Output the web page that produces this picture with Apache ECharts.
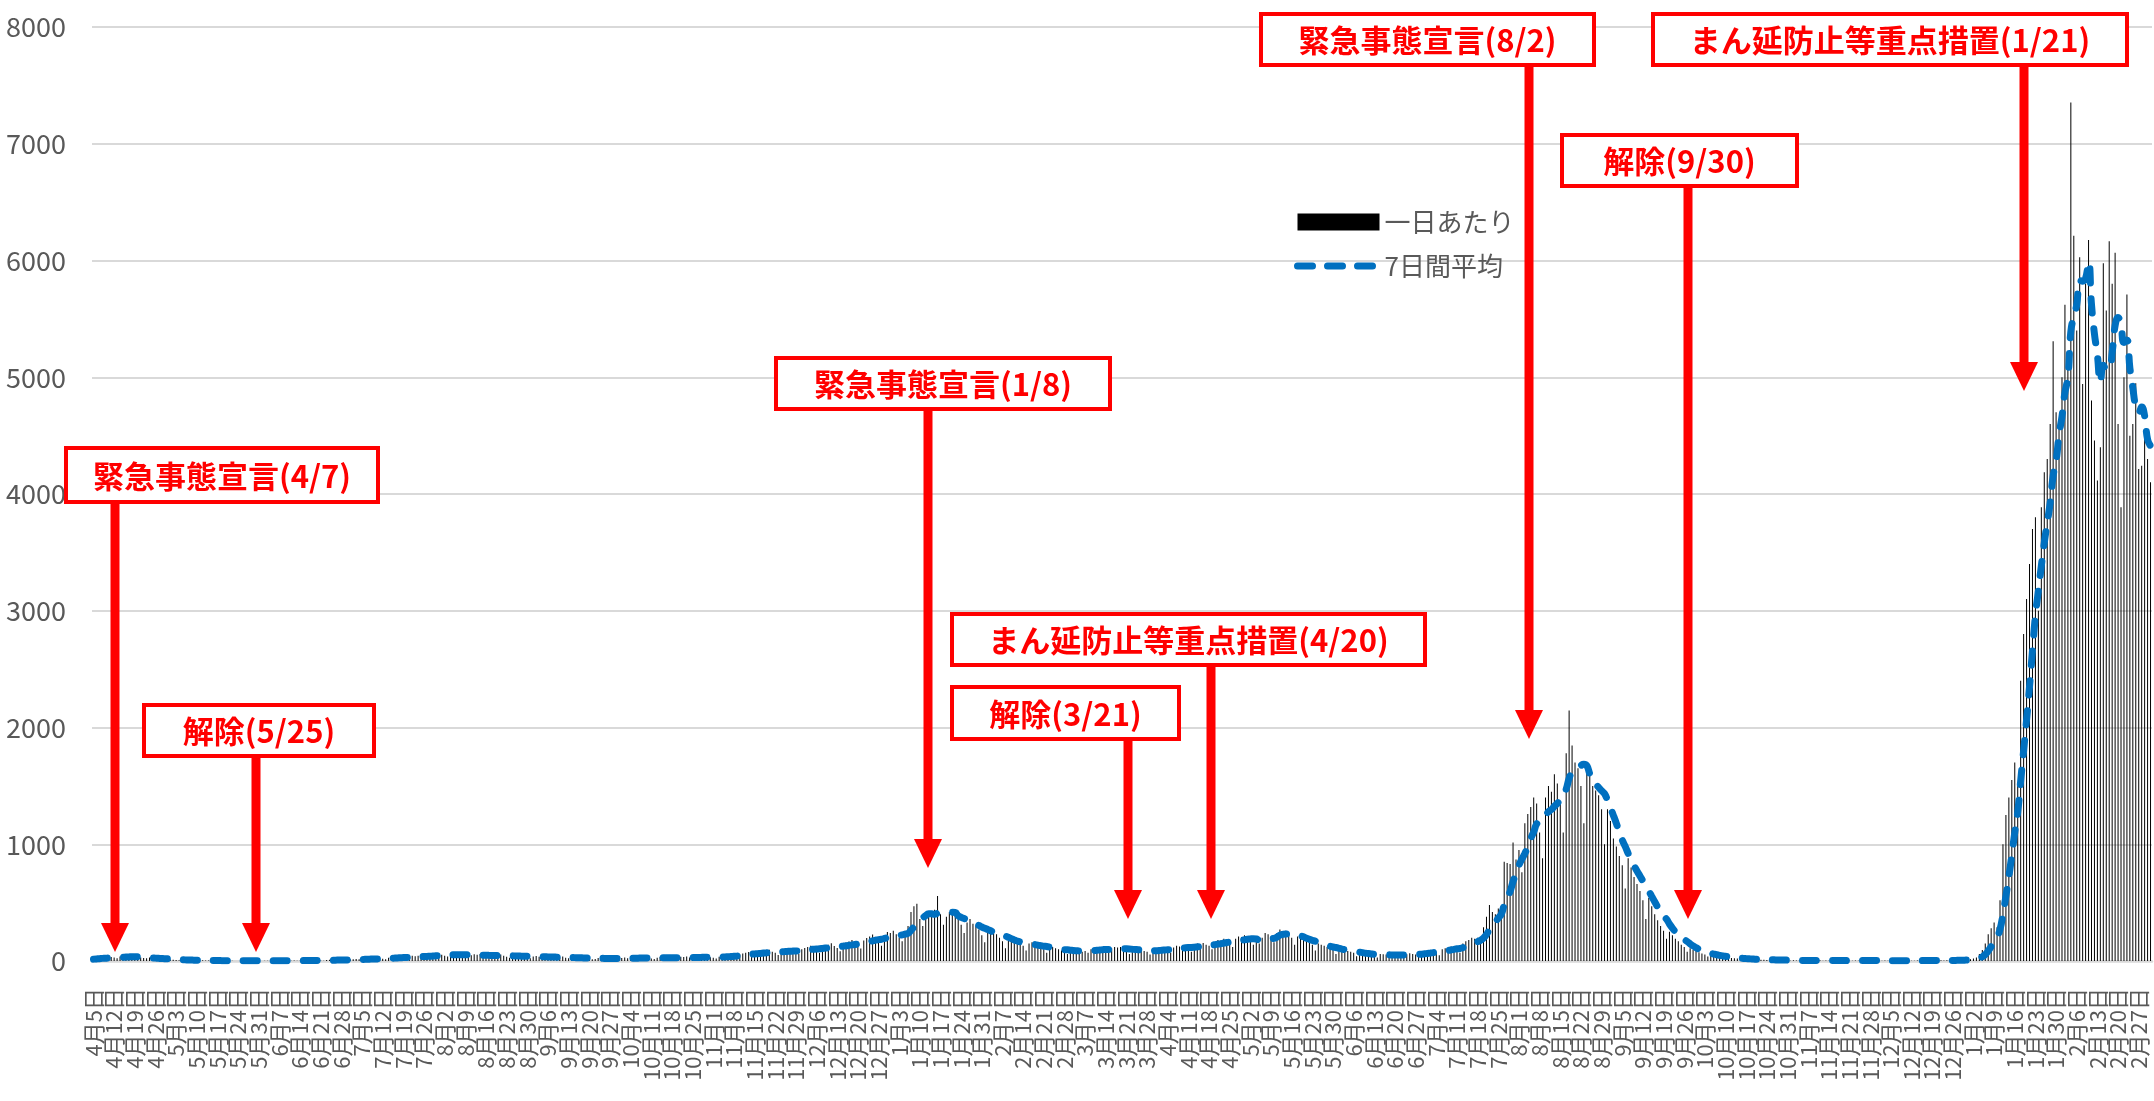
<!DOCTYPE html>
<html><head><meta charset="utf-8">
<script src="https://cdn.jsdelivr.net/npm/echarts@6/dist/echarts.min.js"></script>
<style>html,body{margin:0;padding:0;background:#fff}#c{width:2154px;height:1101px}</style>
</head><body><div id="c"></div>
<script>
// first day of the series (Sunday 2020-04-05); one value per day
const startDate = [2020, 4, 5];
const seriesNames = ['一日あたり', '7日間平均'];
const yTicks = { min: 0, max: 8000, step: 1000 };
const labelEvery = 7; // one date label per week
// daily new cases, one row per week (Sun..Sat)
const dailyCases = [
  16,20,24,30,26,36,34,        // 4/5
  30,24,38,34,42,40,48,        // 4/12
  28,22,30,26,24,30,22,        // 4/19
  18,12,16,20,14,12,10,        // 4/26
  8,6,10,7,9,6,5,              // 5/3
  4,3,6,5,4,3,2,               // 5/10
  2,1,3,2,1,2,1,               // 5/17
  1,0,2,1,3,2,4,               // 5/24
  2,1,3,2,4,3,2,               // 5/31
  1,2,4,3,2,5,3,               // 6/7
  2,4,6,5,7,4,6,               // 6/14
  5,3,8,10,7,12,9,             // 6/21
  8,6,12,14,16,18,15,          // 6/28
  14,10,18,22,20,26,24,        // 7/5
  20,16,28,32,30,36,34,        // 7/12
  28,22,38,44,40,46,42,        // 7/19
  36,30,48,52,56,60,54,        // 7/26
  44,38,56,62,58,64,52,        // 8/2
  42,36,50,58,54,60,48,        // 8/9
  38,30,46,52,48,56,44,        // 8/16
  36,28,44,48,42,50,40,        // 8/23
  32,24,38,42,36,44,34,        // 8/30
  28,20,32,36,30,38,28,        // 9/6
  24,18,28,30,26,32,24,        // 9/13
  20,16,18,26,24,28,22,        // 9/20
  18,14,22,28,26,30,24,        // 9/27
  20,16,26,32,30,34,26,        // 10/4
  22,18,28,34,30,36,28,        // 10/11
  24,20,30,36,34,38,30,        // 10/18
  26,20,32,38,36,40,32,        // 10/25
  28,22,36,42,46,50,44,        // 11/1
  40,34,56,64,70,78,66,        // 11/8
  58,46,74,82,88,96,80,        // 11/15
  70,52,84,92,98,110,88,       // 11/22
  78,60,100,112,120,130,106,   // 11/29
  94,70,120,136,140,152,128,   // 12/6
  112,84,140,158,166,180,150,  // 12/13
  140,108,176,196,210,228,190, // 12/20
  176,130,220,248,240,260,230, // 12/27
  200,170,260,300,420,470,490, // 2021 1/3
  360,300,380,420,410,440,556, // 1/10
  400,310,380,420,410,430,360, // 1/17
  310,240,330,360,320,300,270, // 1/24
  220,160,260,280,240,230,200, // 1/31
  170,110,190,200,160,170,150, // 2/7
  130,90,150,160,140,130,120,  // 2/14
  100,70,110,120,110,100,90,   // 2/21
  80,60,90,100,95,90,80,       // 2/28
  85,70,100,110,105,110,100,   // 3/7
  95,70,110,120,115,120,105,   // 3/14
  90,60,95,105,100,95,85,      // 3/21
  80,55,95,110,105,115,100,    // 3/28
  95,70,115,130,125,135,120,   // 4/4
  110,80,130,150,145,155,140,  // 4/11
  130,100,160,180,175,190,170, // 4/18
  160,120,190,210,205,220,195, // 4/25
  180,140,170,150,200,240,230, // 5/2
  210,160,240,270,250,260,230, // 5/9
  200,140,210,220,190,180,160, // 5/16
  140,90,150,140,130,120,110,  // 5/23
  100,60,100,95,90,85,80,      // 5/30
  70,40,70,65,60,62,55,        // 6/6
  50,30,60,58,55,60,52,        // 6/13
  45,28,62,60,58,66,60,        // 6/20
  55,35,75,80,82,90,85,        // 6/27
  80,50,100,110,115,125,120,   // 7/4
  110,70,150,170,180,200,190,  // 7/11
  200,150,290,380,480,420,400, // 7/18
  450,380,850,840,830,1014,870,      // 7/25
  950,760,1180,1260,1320,1400,1350,  // 8/1
  1100,880,1400,1500,1450,1600,1520, // 8/8
  1350,1100,1780,2145,1846,1700,1650,// 8/15
  1500,1180,1690,1660,1500,1460,1420,// 8/22
  1300,1000,1300,1200,1050,980,900,  // 8/29
  820,620,880,800,720,660,600, // 9/5
  520,360,540,470,400,350,300, // 9/12
  260,190,250,220,190,170,140, // 9/19
  120,80,110,95,85,75,65,      // 9/26
  55,38,52,48,42,38,33,        // 10/3
  28,20,26,24,21,19,17,        // 10/10
  15,10,16,14,12,11,10,        // 10/17
  9,6,10,8,9,7,6,              // 10/24
  5,3,6,5,4,6,5,               // 10/31
  4,2,5,4,6,3,4,               // 11/7
  3,2,4,5,3,4,3,               // 11/14
  2,3,4,3,5,4,3,               // 11/21
  3,2,4,5,3,4,2,               // 11/28
  2,1,3,4,2,3,4,               // 12/5
  3,2,4,3,5,4,3,               // 12/12
  4,3,5,6,4,7,6,               // 12/19
  5,4,8,10,12,14,16,           // 12/26
  22,30,60,95,150,230,280,     // 2022 1/2
  330,290,520,1000,1250,1400,1550,   // 1/9
  1700,1500,2400,2800,3100,3400,3700,// 1/16
  3800,3000,3887,4187,4300,4600,5308,// 1/23
  4700,4558,5000,5622,5200,7354,6213,// 1/30
  5400,6027,4943,5800,6176,4800,4458,// 2/6
  4115,4400,5976,5571,6164,5800,6067,// 2/13
  4600,3887,5000,5708,4500,4600,4949,// 2/20
  4215,4243,4472,4300,4100           // 2/27
];

// annotation texts
const annotationLabels = [
  '緊急事態宣言(4/7)', '解除(5/25)', '緊急事態宣言(1/8)', 'まん延防止等重点措置(4/20)',
  '解除(3/21)', '緊急事態宣言(8/2)', '解除(9/30)', 'まん延防止等重点措置(1/21)'
];

// ---- derived ----
const categories = dailyCases.map((_, i) => {
  const d = new Date(Date.UTC(startDate[0], startDate[1] - 1, startDate[2] + i));
  return (d.getUTCMonth() + 1) + '月' + d.getUTCDate() + '日';
});
const avg7 = dailyCases.map((v, i) => {
  const w = dailyCases.slice(Math.max(0, i - 6), i + 1);
  return Math.round(w.reduce((a, b) => a + b, 0) / w.length * 10) / 10;
});

// ---- annotation layout (pixels) ----
const annLayout = [
  { box: [66, 448, 312, 54],  ax: 115,  headTop: 923, tip: 952 },
  { box: [144, 705, 230, 51], ax: 256,  headTop: 923, tip: 952 },
  { box: [776, 358, 334, 51], ax: 928,  headTop: 839, tip: 868 },
  { box: [952, 614, 473, 51], ax: 1211, headTop: 890, tip: 919 },
  { box: [952, 687, 227, 52], ax: 1128, headTop: 890, tip: 919 },
  { box: [1261, 14, 333, 51], ax: 1529, headTop: 710, tip: 739 },
  { box: [1562, 135, 235, 51], ax: 1688, headTop: 890, tip: 919 },
  { box: [1653, 14, 474, 51], ax: 2024, headTop: 362, tip: 391 }
];
const RED = '#ff0000';
const FONT = '"Noto Sans CJK JP", "Noto Sans", sans-serif';
const graphics = [];
annLayout.forEach((a, k) => {
  const [bx, by, bw, bh] = a.box;
  graphics.push({ type: 'rect', z: 100, shape: { x: a.ax - 4.5, y: by + bh, width: 9, height: a.headTop - by - bh + 1 }, style: { fill: RED } });
  graphics.push({ type: 'polygon', z: 100, shape: { points: [[a.ax - 14, a.headTop], [a.ax + 14, a.headTop], [a.ax, a.tip]] }, style: { fill: RED } });
  graphics.push({ type: 'rect', z: 101, shape: { x: bx, y: by, width: bw, height: bh }, style: { fill: '#fff', stroke: RED, lineWidth: 4 } });
  graphics.push({ type: 'text', z: 102, x: bx + bw / 2, y: by + bh / 2 + 1, style: { text: annotationLabels[k], fill: RED, fontSize: 31, fontWeight: 'bold', fontFamily: FONT, align: 'center', verticalAlign: 'middle' } });
});

const chart = echarts.init(document.getElementById('c'), null, { renderer: 'canvas' });
chart.setOption({
  animation: false,
  backgroundColor: '#fff',
  textStyle: { fontFamily: FONT },
  grid: { left: 92, right: 2, top: 27, bottom: 140 },
  legend: {
    orient: 'vertical', left: 1289, top: 204, itemWidth: 82, itemHeight: 17, itemGap: 18,
    textStyle: { fontSize: 26, color: '#595959', fontFamily: FONT },
    lineStyle: { width: 7, type: [15, 15], cap: 'round', color: '#0070C0' },
    data: [
      { name: seriesNames[0], icon: 'rect' },
      { name: seriesNames[1], itemStyle: { opacity: 0 } }
    ]
  },
  xAxis: {
    type: 'category', data: categories, boundaryGap: true,
    axisLine: { lineStyle: { color: '#d9d9d9', width: 2.5 } },
    axisTick: { interval: (i) => i % labelEvery === 0, length: 9, lineStyle: { color: '#d9d9d9', width: 2 } },
    axisLabel: {
      interval: 0,
      formatter: (value, index) => (index % labelEvery === 0 ? value : ''),
      rotate: 90, margin: 27, fontSize: 22, color: '#595959', fontFamily: FONT
    }
  },
  yAxis: {
    type: 'value', min: yTicks.min, max: yTicks.max, interval: yTicks.step,
    axisLine: { show: false }, axisTick: { show: false },
    axisLabel: { fontSize: 27, color: '#595959', margin: 26, fontFamily: FONT, formatter: (v) => String(v) },
    splitLine: { lineStyle: { color: '#d9d9d9', width: 2 } }
  },
  series: [
    { name: seriesNames[0], type: 'bar', data: dailyCases, barWidth: 1, itemStyle: { color: '#000' }, z: 2 },
    { name: seriesNames[1], type: 'line', data: avg7, smooth: true, symbol: 'none', showSymbol: false, z: 3,
      itemStyle: { color: '#0070C0' },
      lineStyle: { color: '#0070C0', width: 7, type: [14, 16], cap: 'round' } }
  ],
  graphic: graphics
});
</script></body></html>
